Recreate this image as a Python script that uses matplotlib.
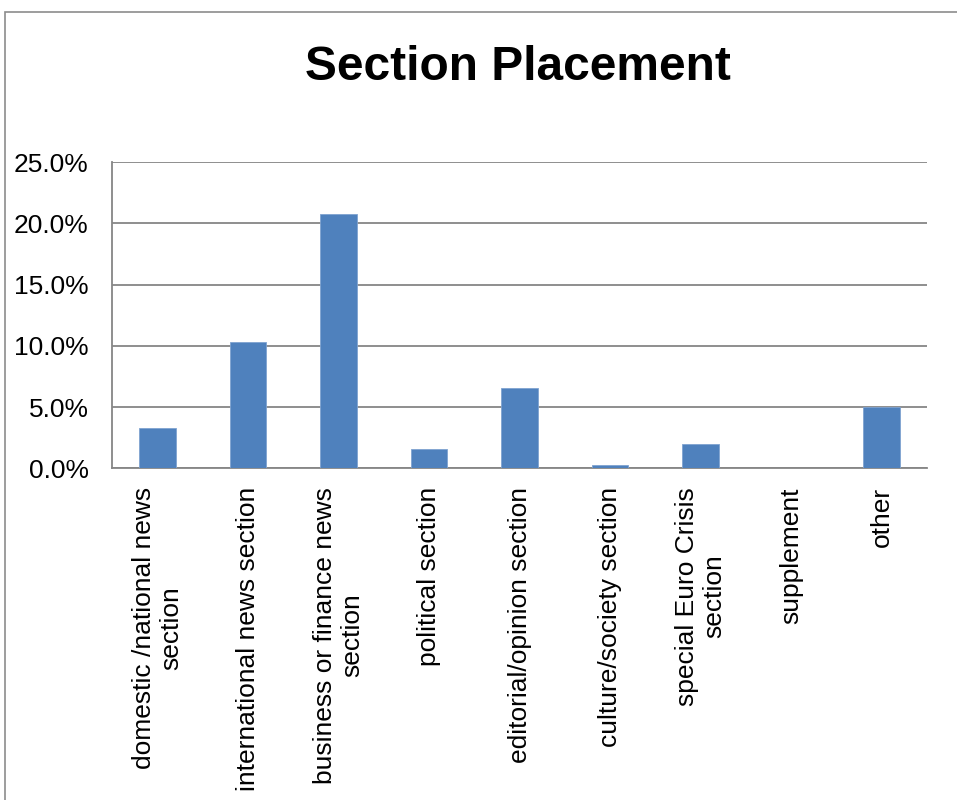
import matplotlib
matplotlib.use("Agg")
import matplotlib.pyplot as plt
from matplotlib.patches import Rectangle
from matplotlib.ticker import FuncFormatter

plt.rcParams['font.family'] = ['Liberation Sans', 'DejaVu Sans']

categories = [
    "domestic /national news\nsection",
    "international news section",
    "business or finance news\nsection",
    "political section",
    "editorial/opinion section",
    "culture/society section",
    "special Euro Crisis\nsection",
    "supplement",
    "other",
]
shares = [3.3, 10.3, 20.8, 1.6, 6.6, 0.25, 2.0, 0.05, 5.0]
y_ticks = [0, 5, 10, 15, 20, 25]

bar_color = "#4F81BD"
grid_color = "#868686"

fig = plt.figure(figsize=(9.57, 8.0), dpi=100)
fig.patch.set_facecolor("white")

# chart-area border (left and top edges visible)
fig.patches.append(Rectangle((5 / 957, -0.5), 2.0, 1.5 - 12 / 800,
                             transform=fig.transFigure, fill=False,
                             edgecolor="#8c8c8c", linewidth=1.2, zorder=0))

ax = fig.add_axes([112.3 / 957, 1 - 468.3 / 800, (926.7 - 112.3) / 957,
                   (468.3 - 162.3) / 800])

x = list(range(len(categories)))
ax.bar(x, shares, width=0.4, color=bar_color, edgecolor="#7fa3d0",
       linewidth=0.6, zorder=3)

ax.set_xlim(-0.5, len(categories) - 0.5)
ax.set_ylim(0, 25)
ax.set_yticks(y_ticks)
ax.yaxis.set_major_formatter(FuncFormatter(lambda v, p: f"{v:.1f}%"))
ax.yaxis.grid(True, color=grid_color, linewidth=1.3, zorder=0)
ax.set_axisbelow(True)

ax.set_xticks(x)
ax.set_xticklabels(categories, rotation=90, ha="center", va="top",
                   multialignment="center", fontsize=19)
ax.tick_params(axis="x", length=0, pad=13.5)
ax.tick_params(axis="y", length=0, pad=17, labelsize=19)

for side in ("top", "right"):
    ax.spines[side].set_visible(False)
for side in ("left", "bottom"):
    ax.spines[side].set_color(grid_color)
    ax.spines[side].set_linewidth(1.3)

fig.text(518 / 957, 1 - 68 / 800, "Section Placement", ha="center",
         va="center", fontsize=34.5, fontweight="bold")

fig.savefig("out.png", dpi=100)
